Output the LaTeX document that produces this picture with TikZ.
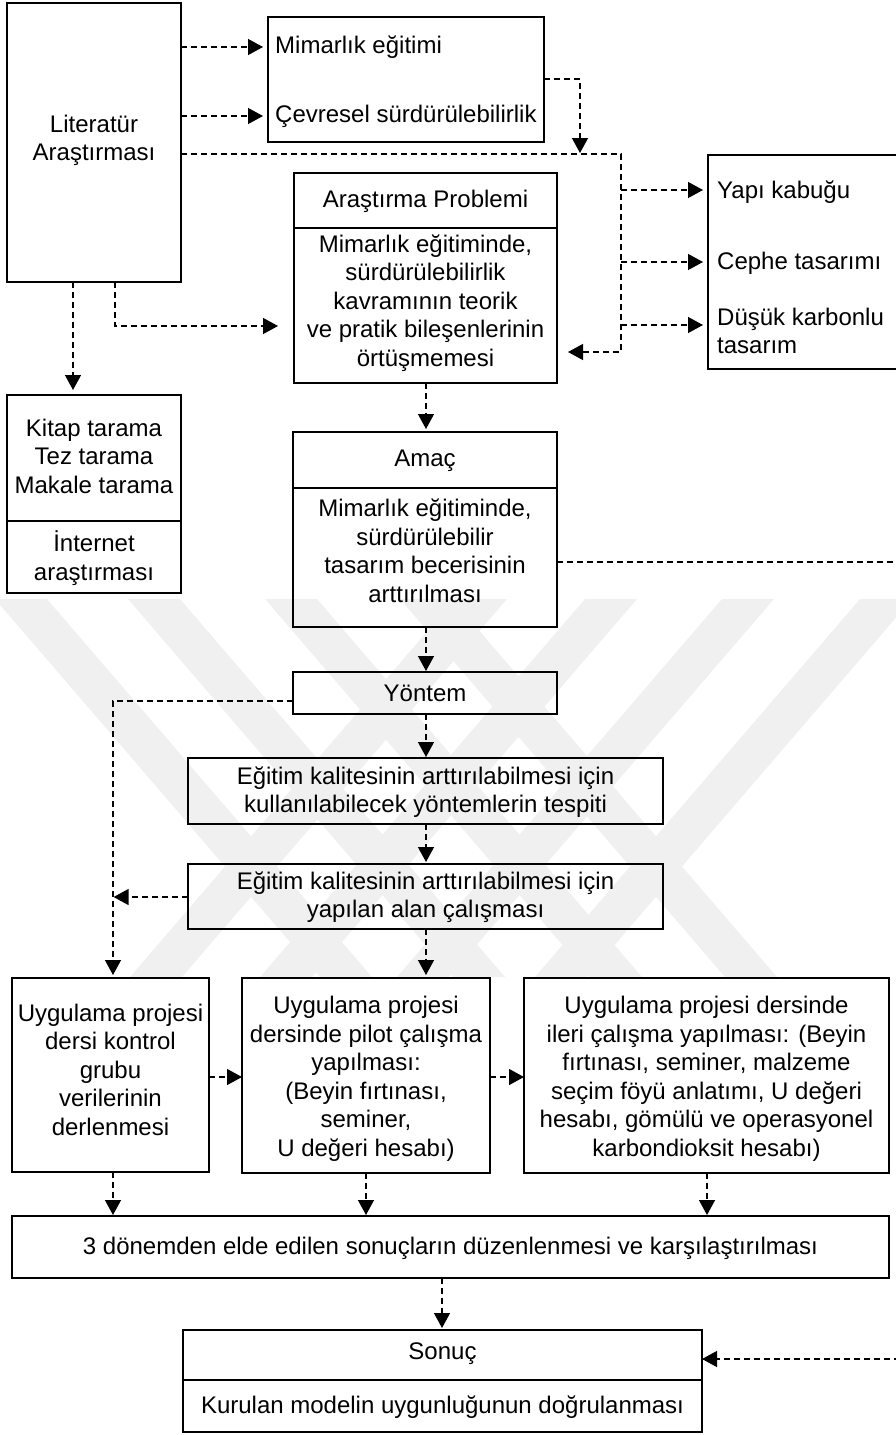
\documentclass[tikz,border=0pt]{standalone}
\usepackage{fontspec}
\setmainfont{Liberation Sans}
\usetikzlibrary{arrows.meta}
\begin{document}
\begin{tikzpicture}[x=1pt,y=-1pt,
  box/.style={draw, line width=1.8pt, inner sep=0pt, outer sep=0pt, anchor=north west},
  lbl/.style={align=center, inner sep=0pt, font=\fontsize{24}{28.5}\selectfont},
  lbll/.style={align=left, anchor=west, inner sep=0pt, font=\fontsize{24}{28.5}\selectfont},
  link/.style={dash pattern=on 6pt off 4pt, line width=1.3pt},
  conn/.style={link, -{Triangle[length=15pt,width=16pt]}},
  divider/.style={line width=1.8pt},
  stripe/.style={fill=black!6}
]
\path[use as bounding box] (0,0) rectangle (896,1435);
\clip (0,0) rectangle (896,1435);

% ---- faint striped background band ----
\begin{scope}
  \clip (0,599) rectangle (896,977);
  \fill[stripe]
    foreach \t in {455,585,722,860} {(\t,599) -- (\t+52,599) -- (\t-273,977) -- (\t-325,977) -- cycle}
    foreach \t in {-5,128,265,400} {(\t,599) -- (\t+52,599) -- (\t+377,977) -- (\t+325,977) -- cycle};
\end{scope}

% ---- boxes ----
\node[box, minimum width=174pt, minimum height=279pt] (lit) at (7,3) {};
\node[box, minimum width=276pt, minimum height=125pt] (mim) at (268,17) {};
\node[box, minimum width=212pt, minimum height=214pt] (yap) at (708,155) {};
\node[box, minimum width=263pt, minimum height=210pt] (arp) at (294,173) {};
\node[box, minimum width=174pt, minimum height=198pt] (kit) at (7,395) {};
\node[box, minimum width=264pt, minimum height=195pt] (amac) at (293,432) {};
\node[box, minimum width=264pt, minimum height=42pt] (yon) at (293,672) {};
\node[box, minimum width=475pt, minimum height=66pt] (ea) at (188,758) {};
\node[box, minimum width=475pt, minimum height=65pt] (eb) at (188,864) {};
\node[box, minimum width=197pt, minimum height=194pt] (ua) at (12,978) {};
\node[box, minimum width=248pt, minimum height=195pt] (ub) at (242,978) {};
\node[box, minimum width=365pt, minimum height=195pt] (uc) at (524,978) {};
\node[box, minimum width=877pt, minimum height=62pt] (don) at (12,1216) {};
\node[box, minimum width=519pt, minimum height=102pt] (son) at (183,1330) {};

% section dividers
\coordinate (d228) at (0,228);
\coordinate (d521) at (0,521);
\coordinate (d488) at (0,488);
\coordinate (d1380) at (0,1380);
\draw[divider] (arp.west |- d228) -- (arp.east |- d228);
\draw[divider] (kit.west |- d521) -- (kit.east |- d521);
\draw[divider] (amac.west |- d488) -- (amac.east |- d488);
\draw[divider] (son.west |- d1380) -- (son.east |- d1380);

% ---- texts ----
\node[lbl] (tlit) at (94,140.5) {Literatür\\Araştırması};
\node[lbll] (tmima) at (275,47) {Mimarlık eğitimi};
\node[lbll] (tmimb) at (275,116) {Çevresel sürdürülebilirlik};
\node[lbll] (tyapa) at (717,192) {Yapı kabuğu};
\node[lbll] (tyapb) at (717,263) {Cephe tasarımı};
\node[lbll] (tyapc) at (717,331) {Düşük karbonlu\\tasarım};
\node[lbl] (tarph) at (425.5,201) {Araştırma Problemi};
\node[lbl] (tarpb) at (425.5,303) {Mimarlık eğitiminde,\\sürdürülebilirlik\\kavramının teorik\\ve pratik bileşenlerinin\\örtüşmemesi};
\node[lbl] (tkita) at (94,456) {Kitap tarama\\Tez tarama\\Makale tarama};
\node[lbl] (tkitb) at (94,558) {İnternet\\araştırması};
\node[lbl] (tamach) at (425,461) {Amaç};
\node[lbl] (tamacb) at (425,551) {Mimarlık eğitiminde,\\sürdürülebilir\\tasarım becerisinin\\arttırılması};
\node[lbl] (tyon) at (425,693) {Yöntem};
\node[lbl] (tea) at (425.5,792) {Eğitim kalitesinin arttırılabilmesi için\\kullanılabilecek yöntemlerin tespiti};
\node[lbl] (teb) at (425.5,897) {Eğitim kalitesinin arttırılabilmesi için\\yapılan alan çalışması};
\node[lbl] (tua) at (110.5,1069.5) {Uygulama projesi\\dersi kontrol\\grubu\\verilerinin\\derlenmesi};
\node[lbl] (tub) at (366,1079) {Uygulama projesi\\dersinde pilot çalışma\\yapılması:\\(Beyin fırtınası,\\seminer,\\U değeri hesabı)};
\node[lbl] (tuc) at (706.5,1079) {Uygulama projesi dersinde\\ileri çalışma yapılması: (Beyin\\fırtınası, seminer, malzeme\\seçim föyü anlatımı, U değeri\\hesabı, gömülü ve operasyonel\\karbondioksit hesabı)};
\node[lbl] (tdon) at (450.5,1248) {3 dönemden elde edilen sonuçların düzenlenmesi ve karşılaştırılması};
\node[lbl] (tsonh) at (442.5,1354) {Sonuç};
\node[lbl] (tsonb) at (442.5,1407) {Kurulan modelin uygunluğunun doğrulanması};

% ---- reference levels for connectors ----
\coordinate (h47) at (0,47);
\coordinate (h116) at (0,116);
\coordinate (h79) at (0,79);
\coordinate (h154) at (0,154);
\coordinate (h190) at (0,190);
\coordinate (h262) at (0,262);
\coordinate (h325) at (0,325);
\coordinate (h352) at (0,352);
\coordinate (h326) at (0,326);
\coordinate (h562) at (0,562);
\coordinate (h701) at (0,701);
\coordinate (h897) at (0,897);
\coordinate (h1077) at (0,1077);
\coordinate (h1359) at (0,1359);
\coordinate (v73) at (73,0);
\coordinate (v113) at (113,0);
\coordinate (v115) at (115,0);
\coordinate (v426) at (426,0);
\coordinate (v442) at (442,0);
\coordinate (v580) at (580,0);
\coordinate (v621) at (621,0);
\coordinate (v707) at (707,0);
\coordinate (v920) at (920,0);

% ---- connectors ----
\draw[conn, shorten >=5pt] (lit.east |- h47) -- (mim.west |- h47);
\draw[conn, shorten >=5pt] (lit.east |- h116) -- (mim.west |- h116);
\draw[conn, shorten >=11pt] (lit.east |- h154) -- (v621 |- h154) -- (v621 |- h352) -- (arp.east |- h352);
\draw[conn, shorten >=1pt] (mim.east |- h79) -- (v580 |- h79) -- (v580 |- h154);
\draw[conn, shorten >=5pt] (v621 |- h190) -- (yap.west |- h190);
\draw[conn, shorten >=5pt] (v621 |- h262) -- (yap.west |- h262);
\draw[conn, shorten >=5pt] (v621 |- h325) -- (yap.west |- h325);
\draw[conn, shorten >=5pt] (lit.south -| v73) -- (kit.north -| v73);
\draw[conn, shorten >=16pt] (lit.south -| v115) -- (v115 |- h326) -- (arp.west |- h326);
\draw[conn, shorten >=3pt] (arp.south -| v426) -- (amac.north -| v426);
\draw[conn, shorten >=1pt] (amac.south -| v426) -- (yon.north -| v426);
\draw[conn, shorten >=1pt] (yon.south -| v426) -- (ea.north -| v426);
\draw[conn, shorten >=2pt] (ea.south -| v426) -- (eb.north -| v426);
\draw[conn, shorten >=3pt] (eb.south -| v426) -- (ub.north -| v426);
\draw[conn, shorten >=3pt] (yon.west |- h701) -- (v113 |- h701) -- (ua.north -| v113);
\draw[conn, shorten >=0.6pt] (eb.west |- h897) -- (v113 |- h897);
\draw[conn] (ua.east |- h1077) -- (ub.west |- h1077);
\draw[conn] (ub.east |- h1077) -- (uc.west |- h1077);
\draw[conn, shorten >=1pt] (ua.south -| v113) -- (don.north -| v113);
\draw[conn, shorten >=1pt] (ub.south) -- (don.north -| ub.south);
\draw[conn, shorten >=1pt] (uc.south -| v707) -- (don.north -| v707);
\draw[conn, shorten >=2pt] (don.south -| v442) -- (son.north -| v442);
\draw[conn] (amac.east |- h562) -- (v920 |- h562) -- (v920 |- h1359) -- (son.east |- h1359);
\end{tikzpicture}
\end{document}
